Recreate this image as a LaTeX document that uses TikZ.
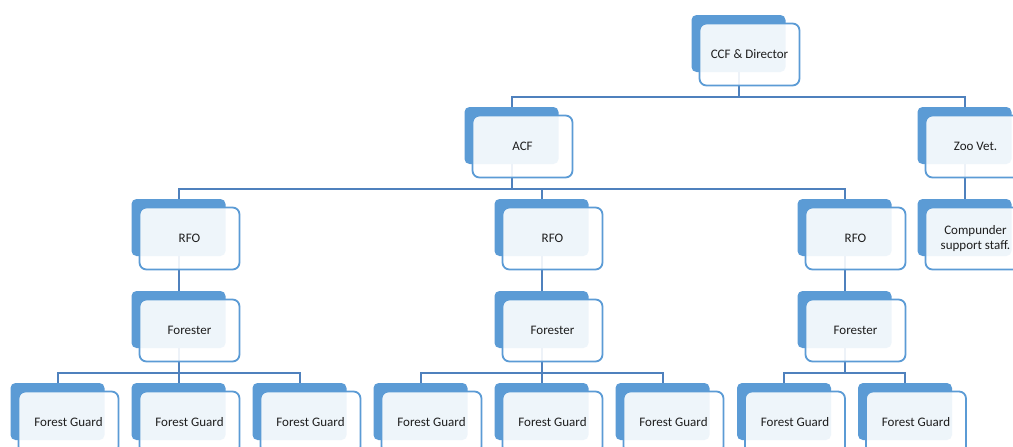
\documentclass[tikz,border=0pt]{standalone}
\usepackage{fontspec}
\setmainfont{Carlito}
\usetikzlibrary{positioning, backgrounds}
\definecolor{boxblue}{RGB}{91,155,213}
\definecolor{lineblue}{RGB}{79,129,189}
\definecolor{textgray}{RGB}{30,30,30}

\begin{document}
\begin{tikzpicture}[x=1pt, y=1pt, node distance=92pt and 121pt, on grid,
    back/.style={fill=boxblue, rounded corners=5pt, minimum width=94pt, minimum height=57pt, inner sep=0pt},
    card/.style={draw=boxblue, line width=1.8pt, fill=white, fill opacity=0.9, text opacity=1,
      rounded corners=7pt, minimum width=100pt, minimum height=62pt, inner sep=0pt, align=center,
      text=textgray, font=\fontsize{13}{15.5}\selectfont, xshift=11pt, yshift=-11pt},
    unit/.style={back, label={[card]center:#1}},
    conn/.style={draw=lineblue, line width=2pt},
    tree/.style={to path={(\tikztostart) |- ([yshift=10pt]\tikztotarget.north) -- (\tikztotarget)}}]
      \path[use as bounding box] (0,0) rectangle (1013,-447);
      \begin{scope}[on background layer]
        \fill[white] (0,0) rectangle (1013,-447);
      \end{scope}
      \clip (0,0) rectangle (1013,-447);

      \node[unit={CCF \& Director}] (ccf) at (738.5,-43.5) {};
      \node[unit=ACF] (acf) [below left=92pt and 227pt of ccf] {};
      \node[unit={Zoo Vet.}] (zoo) [below right=92pt and 226pt of ccf] {};
      \node[unit={Compunder\\support staff.}] (comp) [below=of zoo] {};

      \node[unit=RFO] (rfo_1) [below left=92pt and 333pt of acf] {};
      \node[unit=RFO] (rfo_2) [below right=92pt and 30pt of acf] {};
      \node[unit=RFO] (rfo_3) [below right=92pt and 333pt of acf] {};

      \node[unit=Forester] (for_1) [below=of rfo_1] {};
      \node[unit=Forester] (for_2) [below=of rfo_2] {};
      \node[unit=Forester] (for_3) [below=of rfo_3] {};

      \node[unit={Forest Guard}] (fg_11) [below left=of for_1] {};
      \node[unit={Forest Guard}] (fg_12) [below=of for_1] {};
      \node[unit={Forest Guard}] (fg_13) [below right=of for_1] {};
      \node[unit={Forest Guard}] (fg_21) [below left=of for_2] {};
      \node[unit={Forest Guard}] (fg_22) [below=of for_2] {};
      \node[unit={Forest Guard}] (fg_23) [below right=of for_2] {};
      \node[unit={Forest Guard}] (fg_31) [below left=92pt and 60.5pt of for_3] {};
      \node[unit={Forest Guard}] (fg_32) [below right=92pt and 60.5pt of for_3] {};

      \begin{scope}[on background layer]
        \path[conn]
        (ccf) edge[tree] (acf)
              edge[tree] (zoo)
        (zoo) edge[tree] (comp)
        (acf) edge[tree] (rfo_1)
              edge[tree] (rfo_2)
              edge[tree] (rfo_3)
        (rfo_1) edge[tree] (for_1)
        (rfo_2) edge[tree] (for_2)
        (rfo_3) edge[tree] (for_3)
        (for_1) edge[tree] (fg_11)
                edge[tree] (fg_12)
                edge[tree] (fg_13)
        (for_2) edge[tree] (fg_21)
                edge[tree] (fg_22)
                edge[tree] (fg_23)
        (for_3) edge[tree] (fg_31)
                edge[tree] (fg_32);
      \end{scope}
    \end{tikzpicture}
\end{document}
